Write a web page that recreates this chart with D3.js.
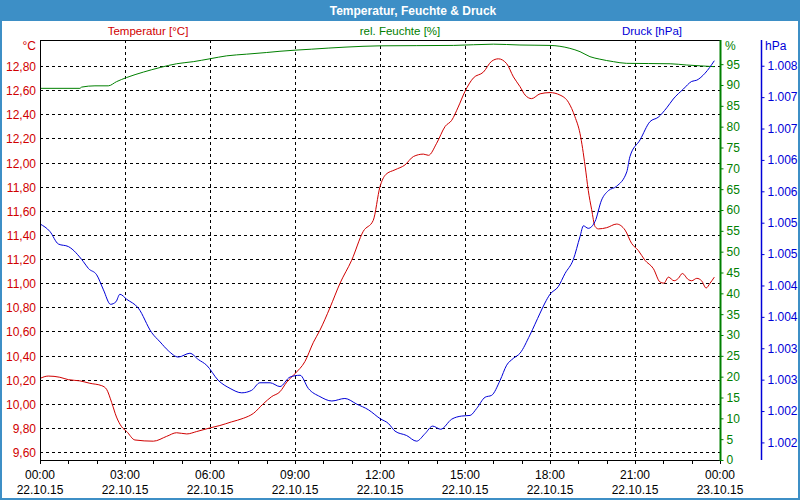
<!DOCTYPE html>
<html>
<head>
<meta charset="utf-8">
<script src="https://cdn.jsdelivr.net/npm/d3@7"></script>
<style>
    body { margin: 0; background: #fff; }
    svg { display: block; font-family: "Liberation Sans", Arial, sans-serif; }
</style>
</head>
<body>
<svg id="chart"></svg>
<script>
// Messwerte 22.10.15 - [Stunde, Wert]
var temperature = [
    [0, 10.21], [0.29, 10.23], [0.7, 10.22], [1, 10.20], [1.41, 10.19], [1.76, 10.17], [2.18, 10.15],
    [2.35, 10.12], [2.53, 10.01], [2.7, 9.89], [2.88, 9.81], [3.06, 9.77], [3.35, 9.70], [4.0, 9.69],
    [4.47, 9.73], [4.82, 9.76], [5.18, 9.75], [5.53, 9.77], [6.0, 9.80], [6.35, 9.82], [6.76, 9.85],
    [7.18, 9.88], [7.53, 9.92], [7.88, 10.00], [8.18, 10.06], [8.47, 10.10], [8.71, 10.18], [9.0, 10.25],
    [9.35, 10.35], [9.65, 10.51], [9.88, 10.61], [10.24, 10.80], [10.59, 11.00], [11.0, 11.19],
    [11.41, 11.43], [11.76, 11.52], [12.0, 11.80], [12.2, 11.90], [12.53, 11.94], [12.88, 11.98],
    [13.18, 12.05], [13.53, 12.07], [13.71, 12.06], [14.0, 12.16], [14.3, 12.30], [14.53, 12.35],
    [14.76, 12.46], [15.0, 12.59], [15.29, 12.70], [15.65, 12.75], [15.94, 12.84], [16.18, 12.86],
    [16.47, 12.82], [16.71, 12.71], [16.94, 12.63], [17.12, 12.56], [17.35, 12.53], [17.65, 12.57],
    [18.0, 12.58], [18.35, 12.56], [18.65, 12.50], [18.88, 12.38], [19.06, 12.24], [19.24, 11.97],
    [19.35, 11.77], [19.47, 11.61], [19.59, 11.47], [19.71, 11.45], [20.0, 11.46], [20.35, 11.49],
    [20.65, 11.44], [20.88, 11.33], [21.12, 11.27], [21.35, 11.19], [21.65, 11.12], [21.88, 11.01],
    [22.02, 11.00], [22.18, 11.05], [22.38, 11.02], [22.53, 11.04], [22.67, 11.08], [22.88, 11.03],
    [23.0, 11.02], [23.18, 11.04], [23.35, 11.02], [23.51, 10.96], [23.65, 11.00], [23.8, 11.05]
];

var humidity = [
    [0, 89.2], [1.41, 89.2], [1.47, 89.5], [1.94, 89.8], [2.41, 89.8], [2.7, 90.8], [3.06, 91.8],
    [3.65, 93.1], [4.24, 94.2], [4.82, 95.1], [5.41, 95.6], [6.0, 96.3], [6.59, 97.0], [7.29, 97.4],
    [8.0, 97.8], [8.47, 98.1], [9.59, 98.6], [10.8, 99.1], [12.0, 99.4], [14.6, 99.5], [16.0, 99.8],
    [16.94, 99.6], [18.0, 99.5], [18.7, 98.8], [19.06, 98.0], [19.41, 96.8], [19.76, 96.2],
    [20.24, 95.6], [20.7, 95.2], [22.24, 95.1], [22.82, 94.8], [23.3, 94.6], [23.8, 94.4]
];

var pressure = [
    [0, 1005.48], [0.35, 1005.36], [0.65, 1005.16], [1.0, 1005.12], [1.53, 1004.88], [1.71, 1004.77],
    [2.0, 1004.67], [2.24, 1004.43], [2.49, 1004.20], [2.68, 1004.24], [2.82, 1004.36], [3.06, 1004.28],
    [3.47, 1004.14], [3.94, 1003.75], [4.24, 1003.60], [4.53, 1003.46], [4.88, 1003.36], [5.29, 1003.42],
    [5.59, 1003.32], [5.88, 1003.23], [6.29, 1002.99], [6.71, 1002.86], [7.12, 1002.79], [7.47, 1002.83],
    [7.76, 1002.95], [8.12, 1002.95], [8.47, 1002.89], [8.82, 1003.04], [9.18, 1003.07], [9.47, 1002.86],
    [9.88, 1002.73], [10.3, 1002.66], [10.76, 1002.70], [11.18, 1002.61], [11.59, 1002.52], [12.0, 1002.38],
    [12.3, 1002.30], [12.53, 1002.18], [12.94, 1002.11], [13.29, 1002.02], [13.59, 1002.14], [13.86, 1002.26],
    [14.14, 1002.21], [14.53, 1002.37], [14.88, 1002.42], [15.18, 1002.43], [15.41, 1002.54], [15.71, 1002.72],
    [15.94, 1002.75], [16.24, 1002.99], [16.47, 1003.23], [16.71, 1003.34], [16.94, 1003.42], [17.29, 1003.71],
    [17.65, 1004.06], [17.82, 1004.22], [18.0, 1004.36], [18.29, 1004.48], [18.53, 1004.69], [18.82, 1004.91],
    [19.06, 1005.28], [19.18, 1005.45], [19.35, 1005.41], [19.59, 1005.52], [19.82, 1005.86], [20.06, 1006.01],
    [20.35, 1006.08], [20.71, 1006.31], [20.82, 1006.55], [21.18, 1006.82], [21.53, 1007.11], [21.82, 1007.18],
    [22.12, 1007.33], [22.35, 1007.47], [22.71, 1007.63], [23.0, 1007.75], [23.18, 1007.77], [23.47, 1007.88],
    [23.8, 1008.08]
];

// Achsenbeschriftungen
var timeTicks = [0, 3, 6, 9, 12, 15, 18, 21, 24];
var timeLabels = ["00:00", "03:00", "06:00", "09:00", "12:00", "15:00", "18:00", "21:00", "00:00"];
var dateLabels = ["22.10.15", "22.10.15", "22.10.15", "22.10.15", "22.10.15", "22.10.15", "22.10.15", "22.10.15", "23.10.15"];
var tempTicks = [9.6, 9.8, 10.0, 10.2, 10.4, 10.6, 10.8, 11.0, 11.2, 11.4, 11.6, 11.8, 12.0, 12.2, 12.4, 12.6, 12.8];
var humidityTicks = [0, 5, 10, 15, 20, 25, 30, 35, 40, 45, 50, 55, 60, 65, 70, 75, 80, 85, 90, 95];
var pressureTicks = [1002, 1002.5, 1003, 1003.5, 1004, 1004.5, 1005, 1005.5, 1006, 1006.5, 1007, 1007.5, 1008];
var pressureLabels = ["1.002", "1.002", "1.003", "1.003", "1.004", "1.004", "1.005", "1.005", "1.006", "1.006", "1.007", "1.007", "1.008"];

var width = 800, height = 500;
var plot = {left: 40, right: 720, top: 40, bottom: 460};
var colors = {temp: "#d00000", hum: "#008000", pres: "#0000d8", bar: "#3d8fc6"};
var tickFont = 12;

var de = d3.formatLocale({decimal: ",", thousands: ".", grouping: [3], currency: ["", " €"]});
var fmtTemp = de.format(".2f");

var svg = d3.select("#chart")
    .attr("width", width)
    .attr("height", height);

// Rahmen + Titelleiste
svg.append("rect")
    .attr("x", 1).attr("y", 1)
    .attr("width", width - 2).attr("height", height - 2)
    .attr("fill", "#fff")
    .attr("stroke", colors.bar)
    .attr("stroke-width", 2);
svg.append("rect")
    .attr("x", 0).attr("y", 0)
    .attr("width", width).attr("height", 21)
    .attr("fill", colors.bar);
svg.append("text")
    .attr("x", 413).attr("y", 15)
    .attr("text-anchor", "middle")
    .attr("fill", "#fff")
    .attr("font-size", 12)
    .attr("font-weight", "bold")
    .text("Temperatur, Feuchte & Druck");

var x = d3.scaleLinear().domain([0, 24]).range([plot.left, plot.right]);
var yT = d3.scaleLinear().domain([9.534, 13.016]).range([plot.bottom, plot.top]);
var yH = d3.scaleLinear().domain([0, 100.8]).range([plot.bottom, plot.top]);
var yP = d3.scaleLinear().domain([1001.72, 1008.41]).range([plot.bottom, plot.top]);

// Legende oben
var legend = [
    {text: "Temperatur [°C]", x: 148, color: colors.temp},
    {text: "rel. Feuchte [%]", x: 400, color: colors.hum},
    {text: "Druck [hPa]", x: 652, color: colors.pres}
];
svg.selectAll("text.legend")
    .data(legend)
    .enter()
    .append("text")
    .attr("class", "legend")
    .attr("x", function (d) { return d.x; })
    .attr("y", 35)
    .attr("text-anchor", "middle")
    .attr("font-size", 11.5)
    .attr("fill", function (d) { return d.color; })
    .text(function (d) { return d.text; });

// Gitter
var grid = svg.append("g")
    .attr("stroke", "#000")
    .attr("stroke-width", 1)
    .attr("stroke-dasharray", "3,3")
    .attr("shape-rendering", "crispEdges");
grid.selectAll("line.h")
    .data(tempTicks)
    .enter()
    .append("line")
    .attr("x1", plot.left).attr("x2", plot.right)
    .attr("y1", function (d) { return Math.round(yT(d)) + 0.5; })
    .attr("y2", function (d) { return Math.round(yT(d)) + 0.5; });
grid.selectAll("line.v")
    .data(timeTicks.slice(1, -1))
    .enter()
    .append("line")
    .attr("y1", plot.top).attr("y2", plot.bottom)
    .attr("x1", function (d) { return Math.round(x(d)) + 0.5; })
    .attr("x2", function (d) { return Math.round(x(d)) + 0.5; });

// Kurven
function drawSeries(data, yScale, color) {
    var line = d3.line()
        .x(function (d) { return x(d[0]); })
        .y(function (d) { return yScale(d[1]); })
        .curve(d3.curveMonotoneX);
    svg.append("path")
        .datum(data)
        .attr("d", line)
        .attr("fill", "none")
        .attr("stroke", color)
        .attr("stroke-width", 1);
}
drawSeries(humidity, yH, colors.hum);
drawSeries(temperature, yT, colors.temp);
drawSeries(pressure, yP, colors.pres);

// Rahmen des Plots
var frame = svg.append("g").attr("shape-rendering", "crispEdges");
frame.append("line")
    .attr("x1", plot.left + 0.5).attr("x2", plot.left + 0.5)
    .attr("y1", plot.top).attr("y2", plot.bottom + 1)
    .attr("stroke", "#000");
frame.append("line")
    .attr("x1", plot.left).attr("x2", plot.right)
    .attr("y1", plot.top + 0.5).attr("y2", plot.top + 0.5)
    .attr("stroke", "#000");
frame.append("line")
    .attr("x1", plot.left).attr("x2", plot.right)
    .attr("y1", plot.bottom + 0.5).attr("y2", plot.bottom + 0.5)
    .attr("stroke", "#000");

// X-Achse (stündliche Striche)
frame.selectAll("line.xt")
    .data(d3.range(0, 25))
    .enter()
    .append("line")
    .attr("x1", function (d) { return Math.round(x(d)) + 0.5; })
    .attr("x2", function (d) { return Math.round(x(d)) + 0.5; })
    .attr("y1", plot.bottom)
    .attr("y2", plot.bottom + 4)
    .attr("stroke", "#000");
var xLab = svg.selectAll("g.xl")
    .data(timeTicks)
    .enter()
    .append("g")
    .attr("transform", function (d) { return "translate(" + x(d) + ",0)"; })
    .attr("font-size", tickFont)
    .attr("text-anchor", "middle")
    .attr("fill", "#000");
xLab.append("text")
    .attr("y", 479)
    .text(function (d, i) { return timeLabels[i]; });
xLab.append("text")
    .attr("y", 494)
    .text(function (d, i) { return dateLabels[i]; });

// linke Achse: Temperatur
svg.selectAll("text.yt")
    .data(tempTicks)
    .enter()
    .append("text")
    .attr("x", 36)
    .attr("y", function (d) { return yT(d) + 5; })
    .attr("text-anchor", "end")
    .attr("font-size", tickFont)
    .attr("fill", colors.temp)
    .text(function (d) { return fmtTemp(d); });
svg.append("text")
    .attr("x", 36).attr("y", 50)
    .attr("text-anchor", "end")
    .attr("font-size", tickFont)
    .attr("fill", colors.temp)
    .text("°C");

// rechte Achse: Feuchte
var hAxis = svg.append("g")
    .attr("transform", "translate(" + (plot.right + 0.5) + ",0)")
    .call(d3.axisRight(yH).tickValues(humidityTicks).tickSize(3).tickPadding(3));
hAxis.select(".domain")
    .attr("d", "M0," + plot.top + "V" + (plot.bottom + 1))
    .attr("stroke", colors.hum)
    .attr("stroke-width", 2);
hAxis.selectAll(".tick line").attr("stroke", colors.hum);
hAxis.selectAll(".tick text")
    .attr("fill", colors.hum)
    .attr("font-size", tickFont)
    .attr("font-family", "Liberation Sans, Arial, sans-serif");
svg.append("text")
    .attr("x", 725).attr("y", 50)
    .attr("font-size", tickFont)
    .attr("fill", colors.hum)
    .text("%");

// zweite rechte Achse: Druck
var pAxis = svg.append("g")
    .attr("transform", "translate(761.5,0)")
    .call(d3.axisRight(yP).tickValues(pressureTicks).tickSize(3).tickPadding(3)
        .tickFormat(function (d, i) { return pressureLabels[i]; }));
pAxis.select(".domain")
    .attr("d", "M0," + plot.top + "V" + plot.bottom)
    .attr("stroke", colors.pres)
    .attr("stroke-width", 1.5);
pAxis.selectAll(".tick line").attr("stroke", colors.pres);
pAxis.selectAll(".tick text")
    .attr("fill", colors.pres)
    .attr("font-size", tickFont)
    .attr("font-family", "Liberation Sans, Arial, sans-serif");
svg.append("text")
    .attr("x", 765).attr("y", 50)
    .attr("font-size", tickFont)
    .attr("fill", colors.pres)
    .text("hPa");
</script>
</body>
</html>
